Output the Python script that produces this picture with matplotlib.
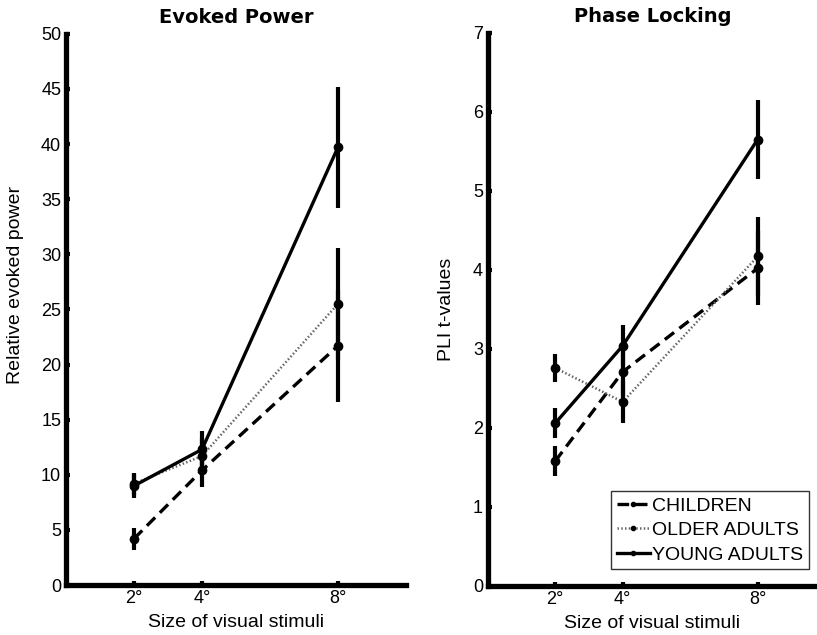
import matplotlib
matplotlib.use('Agg')
import matplotlib.pyplot as plt
from matplotlib import font_manager

# stimulus sizes (deg)
sizes = [2, 4, 8]
size_labels = ['2°', '4°', '8°']

# evoked power
ep_children = [4.2, 10.4, 21.7]
ep_children_err = [1.0, 1.5, 5.1]
ep_older = [9.2, 11.7, 25.5]
ep_older_err = [1.0, 1.6, 5.1]
ep_young = [9.0, 12.3, 39.7]
ep_young_err = [1.1, 1.7, 5.5]

# phase locking
pl_children = [1.58, 2.71, 4.02]
pl_children_err = [0.19, 0.30, 0.47]
pl_older = [2.76, 2.33, 4.17]
pl_older_err = [0.18, 0.27, 0.50]
pl_young = [2.06, 3.04, 5.65]
pl_young_err = [0.19, 0.26, 0.50]

names = [f.name for f in font_manager.fontManager.ttflist]
if 'Liberation Sans Narrow' in names:
    txtfont = 'Liberation Sans Narrow'
else:
    txtfont = 'Liberation Sans'
plt.rcParams['font.family'] = [txtfont, 'DejaVu Sans']

def draw_group(ax, y, err, style, color, lw, label):
    ax.errorbar(sizes, y, yerr=err, fmt='none', ecolor='black', elinewidth=3, capsize=0, zorder=2)
    ax.plot(sizes, y, linestyle=style, color=color, linewidth=lw, marker='o',
            markersize=6, markerfacecolor='black', markeredgecolor='black', label=label, zorder=3)

def style_axes(ax, title, ylabel, ylim, yticks, xmax):
    ax.set_xlim(0, xmax)
    ax.set_ylim(ylim)
    ax.set_yticks(yticks)
    ax.set_xticks(sizes)
    ax.set_xticklabels(size_labels)
    for s in ['top', 'right']:
        ax.spines[s].set_visible(False)
    for s in ['left', 'bottom']:
        ax.spines[s].set_linewidth(3.8)
    ax.tick_params(direction='in', length=3, width=3, labelsize=13, pad=3.5)
    ax.set_title(title, family='DejaVu Sans', fontweight='heavy', fontsize=14, pad=8)
    ax.set_xlabel('Size of visual stimuli', fontsize=14, labelpad=5)
    ax.set_ylabel(ylabel, fontsize=14)

fig = plt.figure(figsize=(8.17, 6.35), dpi=100)

ax1 = fig.add_axes([0.0808, 0.0787, 0.416, 0.868])
draw_group(ax1, ep_children, ep_children_err, (0, (3.5, 2)), 'black', 2.4, 'CHILDREN')
draw_group(ax1, ep_older, ep_older_err, (0, (0.6, 0.9)), '0.4', 1.8, 'OLDER ADULTS')
draw_group(ax1, ep_young, ep_young_err, '-', 'black', 2.4, 'YOUNG ADULTS')
style_axes(ax1, 'Evoked Power', 'Relative evoked power', (0, 50), range(0, 51, 5), 10)
ax1.yaxis.set_label_coords(-0.125, 0.545)

ax2 = fig.add_axes([0.597, 0.0772, 0.403, 0.871])
draw_group(ax2, pl_children, pl_children_err, (0, (3.5, 2)), 'black', 2.4, 'CHILDREN')
draw_group(ax2, pl_older, pl_older_err, (0, (0.6, 0.9)), '0.4', 1.8, 'OLDER ADULTS')
draw_group(ax2, pl_young, pl_young_err, '-', 'black', 2.4, 'YOUNG ADULTS')
style_axes(ax2, 'Phase Locking', 'PLI t-values', (0, 7), range(0, 8), 9.76)
ax2.yaxis.set_label_coords(-0.1, 0.5)

leg = ax2.legend(loc='lower right', bbox_to_anchor=(0.975, 0.03), fontsize=14, frameon=True,
                 fancybox=False, edgecolor='black', handlelength=1.7, handletextpad=0.1,
                 borderpad=0.3, labelspacing=0.35, markerscale=0.5, borderaxespad=0)
leg.get_frame().set_linewidth(1.0)

fig.savefig('out.png', dpi=100)
